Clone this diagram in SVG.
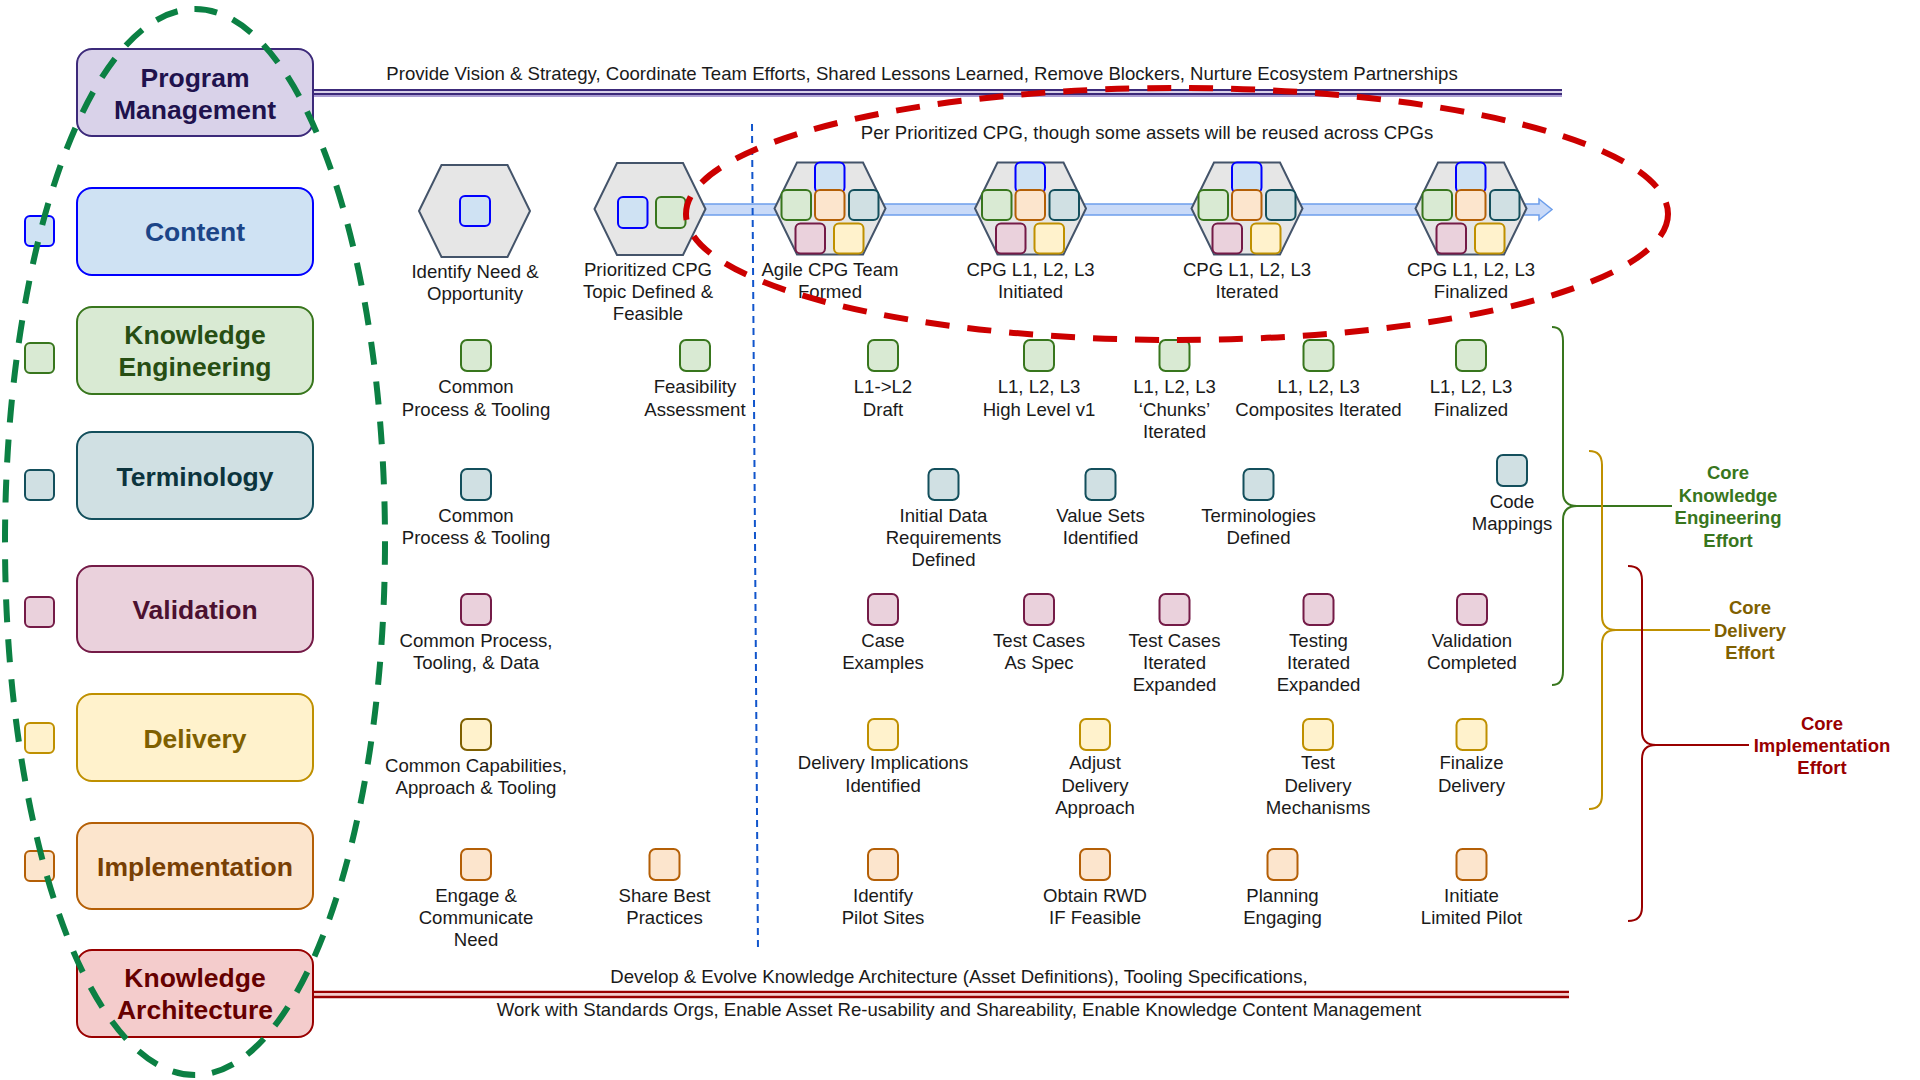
<svg xmlns="http://www.w3.org/2000/svg" xmlns:xlink="http://www.w3.org/1999/xlink" width="1920" height="1080" viewBox="0 0 1920 1080">
<style>
text{font-family:"Liberation Sans",Arial,sans-serif}
.lbl{font-size:18.6px;fill:#1a1a1a;text-anchor:middle}
.hd{font-size:26.5px;font-weight:bold;text-anchor:middle}
.br{font-size:18.5px;font-weight:bold;text-anchor:middle}
.cB{fill:#cfe2f3;stroke:#0000ff;stroke-width:2}
.cG{fill:#d9ead3;stroke:#38761d;stroke-width:2}
.cT{fill:#d0e0e3;stroke:#134f5c;stroke-width:2}
.cP{fill:#ead1dc;stroke:#741b47;stroke-width:2}
.cY{fill:#fff2cc;stroke:#bf9000;stroke-width:2}
.cO{fill:#fce5cd;stroke:#b45f06;stroke-width:2}
.hex{fill:#e6e6e6;stroke:#44546a;stroke-width:2}
.box{stroke-width:2}
</style>
<defs>
<polygon id="hex" class="hex" points="-55.5,0 -33,-46 33,-46 55.5,0 33,46 -33,46"/>
<rect id="sq" x="0" y="0" width="30" height="31" rx="6"/>
<g id="cluster">
<rect class="cB" x="-15" y="-46" width="29.5" height="30" rx="5"/>
<rect class="cG" x="-48.5" y="-18.5" width="29.5" height="30" rx="5"/>
<rect class="cO" x="-15" y="-18.5" width="29.5" height="30" rx="5"/>
<rect class="cT" x="19" y="-18.5" width="29.5" height="30" rx="5"/>
<rect class="cP" x="-34.5" y="15" width="29.5" height="30" rx="5"/>
<rect class="cY" x="4" y="15" width="29.5" height="30" rx="5"/>
</g>
</defs>
<rect width="1920" height="1080" fill="#ffffff"/>

<g id="connectors">
<line x1="313" y1="90" x2="1562" y2="90" stroke="#3c2a7a" stroke-width="2"/>
<line x1="313" y1="92" x2="1562" y2="92" stroke="#d9d2e9" stroke-width="2"/>
<line x1="313" y1="94" x2="1562" y2="94" stroke="#3c2a7a" stroke-width="2"/>
<line x1="313" y1="96" x2="1562" y2="96" stroke="#8e7cc3" stroke-width="1.5"/>
<line x1="313" y1="992" x2="1569" y2="992" stroke="#990000" stroke-width="2.5"/>
<line x1="313" y1="994.5" x2="1569" y2="994.5" stroke="#f4cccc" stroke-width="2.5"/>
<line x1="313" y1="997" x2="1569" y2="997" stroke="#990000" stroke-width="2.5"/>
<polygon points="700,204 1539,204 1539,199 1552,209.5 1539,220 1539,215 700,215" fill="#c9daf8" stroke="#6d9eeb" stroke-width="1.5"/>
<path d="M1552,327 Q1563,327 1563,341 V492 Q1563,506 1577,506 Q1563,506 1563,520 V671 Q1563,685 1552,685 M1577,506 H1672" fill="none" stroke="#38761d" stroke-width="2"/>
<path d="M1589,451 Q1602,451 1602,465 V616 Q1602,630 1616,630 Q1602,630 1602,644 V795 Q1602,809 1589,809 M1616,630 H1710" fill="none" stroke="#bf9000" stroke-width="2"/>
<path d="M1628,566 Q1642,566 1642,580 V731 Q1642,745 1656,745 Q1642,745 1642,759 V907 Q1642,921 1628,921 M1656,745 H1749" fill="none" stroke="#990000" stroke-width="2"/>
</g>

<text class="lbl" x="922" y="80">Provide Vision &amp; Strategy, Coordinate Team Efforts, Shared Lessons Learned, Remove Blockers, Nurture Ecosystem Partnerships</text>
<text class="lbl" x="1147" y="139">Per Prioritized CPG, though some assets will be reused across CPGs</text>
<text class="lbl" x="959" y="983">Develop &amp; Evolve Knowledge Architecture (Asset Definitions), Tooling Specifications,</text>
<text class="lbl" x="959" y="1016">Work with Standards Orgs, Enable Asset Re-usability and Shareability, Enable Knowledge Content Management</text>

<!-- Left category boxes -->
<g id="program-management">
<rect class="box" x="77" y="49" width="236" height="87" rx="15" fill="#d9d2e9" stroke="#3c2a7a"/>
<text class="hd" x="195" y="87" fill="#20124d">Program</text>
<text class="hd" x="195" y="119" fill="#20124d">Management</text>
</g>
<g id="content">
<rect class="cB" x="25" y="216" width="29" height="30" rx="5"/>
<rect class="box" x="77" y="188" width="236" height="87" rx="15" fill="#cfe2f3" stroke="#0000ff"/>
<text class="hd" x="195" y="241" fill="#1c4587">Content</text>
</g>
<g id="knowledge-engineering">
<rect class="cG" x="25" y="343" width="29" height="30" rx="5"/>
<rect class="box" x="77" y="307" width="236" height="87" rx="15" fill="#d9ead3" stroke="#38761d"/>
<text class="hd" x="195" y="344" fill="#274e13">Knowledge</text>
<text class="hd" x="195" y="376" fill="#274e13">Engineering</text>
</g>
<g id="terminology">
<rect class="cT" x="25" y="470" width="29" height="30" rx="5"/>
<rect class="box" x="77" y="432" width="236" height="87" rx="15" fill="#d0e0e3" stroke="#134f5c"/>
<text class="hd" x="195" y="486" fill="#0c343d">Terminology</text>
</g>
<g id="validation">
<rect class="cP" x="25" y="597" width="29" height="30" rx="5"/>
<rect class="box" x="77" y="566" width="236" height="86" rx="15" fill="#ead1dc" stroke="#741b47"/>
<text class="hd" x="195" y="619" fill="#4c1130">Validation</text>
</g>
<g id="delivery">
<rect class="cY" x="25" y="723" width="29" height="30" rx="5"/>
<rect class="box" x="77" y="694" width="236" height="87" rx="15" fill="#fff2cc" stroke="#bf9000"/>
<text class="hd" x="195" y="748" fill="#7f6000">Delivery</text>
</g>
<g id="implementation">
<rect class="cO" x="25" y="851" width="29" height="30" rx="5"/>
<rect class="box" x="77" y="823" width="236" height="86" rx="15" fill="#fce5cd" stroke="#b45f06"/>
<text class="hd" x="195" y="876" fill="#783f04">Implementation</text>
</g>
<g id="knowledge-architecture">
<rect class="box" x="77" y="950" width="236" height="87" rx="15" fill="#f4cccc" stroke="#990000"/>
<text class="hd" x="195" y="987" fill="#660000">Knowledge</text>
<text class="hd" x="195" y="1019" fill="#660000">Architecture</text>
</g>

<!-- Milestone hexagons -->
<g id="identify-need">
<use xlink:href="#hex" href="#hex" x="474.5" y="211"/>
<rect class="cB" x="460" y="196" width="30" height="30" rx="5"/>
<text class="lbl" x="475" y="278">Identify Need &amp;</text>
<text class="lbl" x="475" y="300">Opportunity</text>
</g>
<g id="prioritized-cpg">
<use xlink:href="#hex" href="#hex" x="650" y="209"/>
<rect class="cB" x="618" y="197" width="29.5" height="31" rx="5"/>
<rect class="cG" x="656" y="197" width="29.5" height="31" rx="5"/>
<text class="lbl" x="648" y="276">Prioritized CPG</text>
<text class="lbl" x="648" y="298">Topic Defined &amp;</text>
<text class="lbl" x="648" y="320">Feasible</text>
</g>
<g id="agile-team">
<use xlink:href="#hex" href="#hex" x="830" y="208.5"/>
<use xlink:href="#cluster" href="#cluster" x="830" y="208.5"/>
<text class="lbl" x="830" y="276">Agile CPG Team</text>
<text class="lbl" x="830" y="298">Formed</text>
</g>
<g id="cpg-initiated">
<use xlink:href="#hex" href="#hex" x="1030.5" y="208.5"/>
<use xlink:href="#cluster" href="#cluster" x="1030.5" y="208.5"/>
<text class="lbl" x="1030.5" y="276">CPG L1, L2, L3</text>
<text class="lbl" x="1030.5" y="298">Initiated</text>
</g>
<g id="cpg-iterated">
<use xlink:href="#hex" href="#hex" x="1247" y="208.5"/>
<use xlink:href="#cluster" href="#cluster" x="1247" y="208.5"/>
<text class="lbl" x="1247" y="276">CPG L1, L2, L3</text>
<text class="lbl" x="1247" y="298">Iterated</text>
</g>
<g id="cpg-finalized">
<use xlink:href="#hex" href="#hex" x="1471" y="208.5"/>
<use xlink:href="#cluster" href="#cluster" x="1471" y="208.5"/>
<text class="lbl" x="1471" y="276">CPG L1, L2, L3</text>
<text class="lbl" x="1471" y="298">Finalized</text>
</g>

<!-- Knowledge Engineering row -->
<g id="ke-common"><use href="#sq" xlink:href="#sq" class="cG" x="461" y="340"/><text class="lbl" x="476" y="393">Common</text><text class="lbl" x="476" y="416">Process &amp; Tooling</text></g>
<g id="ke-feasibility"><use href="#sq" xlink:href="#sq" class="cG" x="680" y="340"/><text class="lbl" x="695" y="393">Feasibility</text><text class="lbl" x="695" y="416">Assessment</text></g>
<g id="ke-draft"><use href="#sq" xlink:href="#sq" class="cG" x="868" y="340"/><text class="lbl" x="883" y="393">L1-&gt;L2</text><text class="lbl" x="883" y="416">Draft</text></g>
<g id="ke-highlevel"><use href="#sq" xlink:href="#sq" class="cG" x="1024" y="340"/><text class="lbl" x="1039" y="393">L1, L2, L3</text><text class="lbl" x="1039" y="416">High Level v1</text></g>
<g id="ke-chunks"><use href="#sq" xlink:href="#sq" class="cG" x="1159.5" y="340"/><text class="lbl" x="1174.5" y="393">L1, L2, L3</text><text class="lbl" x="1174.5" y="416">‘Chunks’</text><text class="lbl" x="1174.5" y="438">Iterated</text></g>
<g id="ke-composites"><use href="#sq" xlink:href="#sq" class="cG" x="1303.5" y="340"/><text class="lbl" x="1318.5" y="393">L1, L2, L3</text><text class="lbl" x="1318.5" y="416">Composites Iterated</text></g>
<g id="ke-finalized"><use href="#sq" xlink:href="#sq" class="cG" x="1456" y="340"/><text class="lbl" x="1471" y="393">L1, L2, L3</text><text class="lbl" x="1471" y="416">Finalized</text></g>

<!-- Terminology row -->
<g id="term-common"><use href="#sq" xlink:href="#sq" class="cT" x="461" y="469"/><text class="lbl" x="476" y="522">Common</text><text class="lbl" x="476" y="544">Process &amp; Tooling</text></g>
<g id="term-initial"><use href="#sq" xlink:href="#sq" class="cT" x="928.5" y="469"/><text class="lbl" x="943.5" y="522">Initial Data</text><text class="lbl" x="943.5" y="544">Requirements</text><text class="lbl" x="943.5" y="566">Defined</text></g>
<g id="term-valuesets"><use href="#sq" xlink:href="#sq" class="cT" x="1085.5" y="469"/><text class="lbl" x="1100.5" y="522">Value Sets</text><text class="lbl" x="1100.5" y="544">Identified</text></g>
<g id="term-defined"><use href="#sq" xlink:href="#sq" class="cT" x="1243.5" y="469"/><text class="lbl" x="1258.5" y="522">Terminologies</text><text class="lbl" x="1258.5" y="544">Defined</text></g>
<g id="term-mappings"><use href="#sq" xlink:href="#sq" class="cT" x="1497" y="455"/><text class="lbl" x="1512" y="508">Code</text><text class="lbl" x="1512" y="530">Mappings</text></g>

<!-- Validation row -->
<g id="val-common"><use href="#sq" xlink:href="#sq" class="cP" x="461" y="594"/><text class="lbl" x="476" y="647">Common Process,</text><text class="lbl" x="476" y="669">Tooling, &amp; Data</text></g>
<g id="val-case"><use href="#sq" xlink:href="#sq" class="cP" x="868" y="594"/><text class="lbl" x="883" y="647">Case</text><text class="lbl" x="883" y="669">Examples</text></g>
<g id="val-spec"><use href="#sq" xlink:href="#sq" class="cP" x="1024" y="594"/><text class="lbl" x="1039" y="647">Test Cases</text><text class="lbl" x="1039" y="669">As Spec</text></g>
<g id="val-iterated"><use href="#sq" xlink:href="#sq" class="cP" x="1159.5" y="594"/><text class="lbl" x="1174.5" y="647">Test Cases</text><text class="lbl" x="1174.5" y="669">Iterated</text><text class="lbl" x="1174.5" y="691">Expanded</text></g>
<g id="val-testing"><use href="#sq" xlink:href="#sq" class="cP" x="1303.5" y="594"/><text class="lbl" x="1318.5" y="647">Testing</text><text class="lbl" x="1318.5" y="669">Iterated</text><text class="lbl" x="1318.5" y="691">Expanded</text></g>
<g id="val-completed"><use href="#sq" xlink:href="#sq" class="cP" x="1457" y="594"/><text class="lbl" x="1472" y="647">Validation</text><text class="lbl" x="1472" y="669">Completed</text></g>

<!-- Delivery row -->
<g id="del-common"><use href="#sq" xlink:href="#sq" class="cY" style="stroke:#7f6000" x="461" y="719"/><text class="lbl" x="476" y="772">Common Capabilities,</text><text class="lbl" x="476" y="794">Approach &amp; Tooling</text></g>
<g id="del-implications"><use href="#sq" xlink:href="#sq" class="cY" x="868" y="719"/><text class="lbl" x="883" y="769">Delivery Implications</text><text class="lbl" x="883" y="792">Identified</text></g>
<g id="del-adjust"><use href="#sq" xlink:href="#sq" class="cY" x="1080" y="719"/><text class="lbl" x="1095" y="769">Adjust</text><text class="lbl" x="1095" y="792">Delivery</text><text class="lbl" x="1095" y="814">Approach</text></g>
<g id="del-test"><use href="#sq" xlink:href="#sq" class="cY" x="1303" y="719"/><text class="lbl" x="1318" y="769">Test</text><text class="lbl" x="1318" y="792">Delivery</text><text class="lbl" x="1318" y="814">Mechanisms</text></g>
<g id="del-finalize"><use href="#sq" xlink:href="#sq" class="cY" x="1456.5" y="719"/><text class="lbl" x="1471.5" y="769">Finalize</text><text class="lbl" x="1471.5" y="792">Delivery</text></g>

<!-- Implementation row -->
<g id="imp-engage"><use href="#sq" xlink:href="#sq" class="cO" x="461" y="849"/><text class="lbl" x="476" y="902">Engage &amp;</text><text class="lbl" x="476" y="924">Communicate</text><text class="lbl" x="476" y="946">Need</text></g>
<g id="imp-share"><use href="#sq" xlink:href="#sq" class="cO" x="649.5" y="849"/><text class="lbl" x="664.5" y="902">Share Best</text><text class="lbl" x="664.5" y="924">Practices</text></g>
<g id="imp-pilot"><use href="#sq" xlink:href="#sq" class="cO" x="868" y="849"/><text class="lbl" x="883" y="902">Identify</text><text class="lbl" x="883" y="924">Pilot Sites</text></g>
<g id="imp-rwd"><use href="#sq" xlink:href="#sq" class="cO" x="1080" y="849"/><text class="lbl" x="1095" y="902">Obtain RWD</text><text class="lbl" x="1095" y="924">IF Feasible</text></g>
<g id="imp-planning"><use href="#sq" xlink:href="#sq" class="cO" x="1267.5" y="849"/><text class="lbl" x="1282.5" y="902">Planning</text><text class="lbl" x="1282.5" y="924">Engaging</text></g>
<g id="imp-initiate"><use href="#sq" xlink:href="#sq" class="cO" x="1456.5" y="849"/><text class="lbl" x="1471.5" y="902">Initiate</text><text class="lbl" x="1471.5" y="924">Limited Pilot</text></g>

<!-- Effort labels -->
<g id="core-ke">
<text class="br" fill="#38761d" x="1728" y="479">Core</text>
<text class="br" fill="#38761d" x="1728" y="502">Knowledge</text>
<text class="br" fill="#38761d" x="1728" y="524">Engineering</text>
<text class="br" fill="#38761d" x="1728" y="547">Effort</text>
</g>
<g id="core-delivery">
<text class="br" fill="#7f6000" x="1750" y="614">Core</text>
<text class="br" fill="#7f6000" x="1750" y="637">Delivery</text>
<text class="br" fill="#7f6000" x="1750" y="659">Effort</text>
</g>
<g id="core-implementation">
<text class="br" fill="#990000" x="1822" y="730">Core</text>
<text class="br" fill="#990000" x="1822" y="752">Implementation</text>
<text class="br" fill="#990000" x="1822" y="774">Effort</text>
</g>

<!-- Overlays -->
<line x1="752" y1="124" x2="758" y2="952" stroke="#1155cc" stroke-width="2" stroke-dasharray="7 5"/>
<ellipse cx="1177" cy="214" rx="491" ry="126" fill="none" stroke="#cc0000" stroke-width="6" stroke-dasharray="24 18"/>
<ellipse cx="195" cy="542" rx="190" ry="533" fill="none" stroke="#0b8043" stroke-width="6" stroke-dasharray="23 17"/>
</svg>
